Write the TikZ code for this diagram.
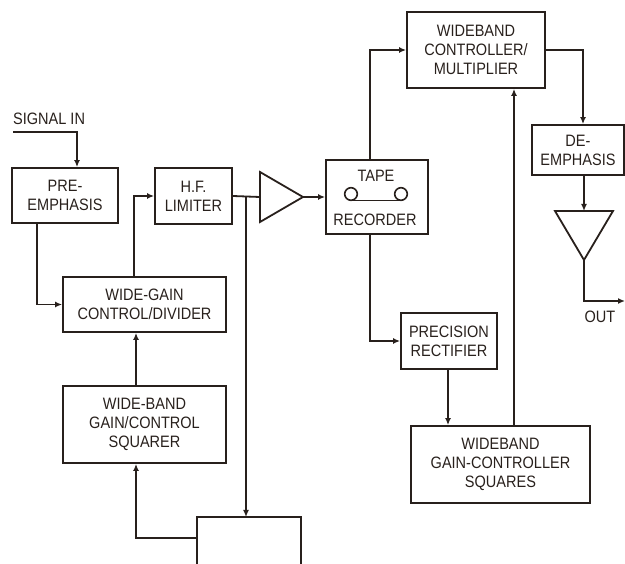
\documentclass[tikz,border=0pt]{standalone}
\usepackage{fontspec}
\setmainfont{Liberation Sans}[FakeStretch=0.88]
\usetikzlibrary{arrows.meta,calc}
\definecolor{ink}{RGB}{40,32,28}
\begin{document}
\begin{tikzpicture}[x=1pt,y=-1pt,
  txt/.style={text=ink, align=center, inner sep=0pt, font=\fontsize{16.5}{19}\selectfont},
  box/.style={txt, draw=ink, line width=1.8pt},
  wire/.style={draw=ink, line width=1.8pt, line join=miter},
  arr/.style={wire, -{Latex[length=7pt,width=6pt]}}]
\useasboundingbox (0,0) rectangle (625,564);
% boxes
\node[box, minimum width=106, minimum height=55] (pre) at (65,195.5) {PRE-\\EMPHASIS};
\node[box, minimum width=77, minimum height=56] (hf) at (193.5,196) {H.F.\\LIMITER};
\node[box, minimum width=163, minimum height=55] (wgc) at (144.5,304.5) {WIDE-GAIN\\CONTROL/DIVIDER};
\node[box, minimum width=163, minimum height=77] (wbs) at (144.5,424.5) {WIDE-BAND\\GAIN/CONTROL\\SQUARER};
\node[box, minimum width=102, minimum height=74] (tape) at (377,197) {};
\node[txt] (tapetxt) at (376,176) {TAPE};
\node[txt] (rectxt) at (375,220) {RECORDER};
\node[box, minimum width=138, minimum height=76] (wc) at (476,50) {WIDEBAND\\CONTROLLER/\\MULTIPLIER};
\node[box, minimum width=92, minimum height=50] (de) at (578,150) {DE-\\EMPHASIS};
\node[box, minimum width=96, minimum height=56] (prec) at (449,341) {PRECISION\\RECTIFIER};
\node[box, minimum width=179, minimum height=77] (wgcs) at (500.5,464.5) {WIDEBAND\\GAIN-CONTROLLER\\SQUARES};
% tape reels
\draw[wire, line width=1.6pt] (351,194) circle (6.3) (401,194) circle (6.3);
\draw[wire, line width=1.6pt] (351,200.5) -- (401,200.5);
% amplifiers
\draw[wire] (260,172) -- (303,197) -- (260,222) -- cycle;
\coordinate (ampin) at (260,197);
\coordinate (ampout) at (303,197);
\draw[wire] (555,211) -- (613,211) -- (584,260) -- cycle;
\coordinate (oampin) at (584,211);
\coordinate (oampout) at (584,260);
% bottom (cut-off) box
\draw[wire] (197,570) -- (197,517) -- (301,517) -- (301,570);
\coordinate (botL) at (197,538);
\coordinate (botT) at (246,517);
% labels
\node[txt, anchor=west] (sig) at (13,119) {SIGNAL IN};
\node[txt] (outl) at (600,317) {OUT};
\coordinate (sigstart) at (13,132);
\coordinate (sigdrop) at (77,132);
\coordinate (branch) at (246,196);
\coordinate (outcorner) at (584,301);
\coordinate (outend) at (625,301);
% connectors
\draw[arr] (sigstart) -- (sigdrop) -- (sigdrop |- pre.north);
\draw[arr] ([xshift=-28]pre.south) |- (wgc.west);
\draw[arr] ([xshift=-10.5]wgc.north) |- (hf.west);
\draw[wire] (hf.east) -- (ampin);
\draw[arr] (branch) -- (botT);
\draw[arr] (botL) -| ([xshift=-8.5]wbs.south);
\draw[arr] ([xshift=-8.5]wbs.north) -- ([xshift=-8.5]wgc.south);
\draw[arr] (ampout) -- (tape.west);
\draw[arr] ([xshift=-7]tape.north) |- (wc.west);
\draw[arr] (wc.east) -| ([xshift=5]de.north);
\draw[arr] ([xshift=6]de.south) -- (oampin);
\draw[arr] (oampout) -- (outcorner) -- (outend);
\draw[arr] ([xshift=-7]tape.south) |- (prec.west);
\draw[arr] ([xshift=-1]prec.south) -- ([xshift=-1]prec.south |- wgcs.north);
\draw[arr] ([xshift=13.5]wgcs.north) -- ([xshift=38]wc.south);
\end{tikzpicture}
\end{document}
